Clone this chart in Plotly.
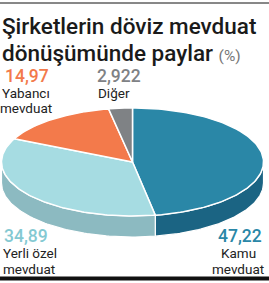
import numpy as np
import plotly.graph_objects as go

# Data
categories = ["Kamu mevduat", "Yerli özel mevduat", "Yabancı mevduat", "Diğer"]
values = [47.22, 34.89, 14.97, 2.922]
value_labels = ["47,22", "34,89", "14,97", "2,922"]
label_lines = [["Kamu", "mevduat"], ["Yerli özel", "mevduat"], ["Yabancı", "mevduat"], ["Diğer"]]
top_colors = ["#2a87a7", "#a6dce2", "#f37a4b", "#7f8285"]
side_colors = ["#1b6483", "#8cbac1", "#c95f37", "#5f6264"]
num_colors = ["#2a87a7", "#84c9d2", "#f37a4b", "#7f8285"]

W, H = 269, 283
cx, cy = 132.5, 162.0
rx, ry = 131.0, 54.0
depth = 21.0

fig = go.Figure()

total = sum(values)
bounds = np.cumsum([0] + values) / total * 360.0

def pt(theta_deg, dy=0.0):
    t = np.radians(theta_deg)
    return cx + rx * np.sin(t), cy - ry * np.cos(t) + dy

# sides (front half: 90..270 deg)
for i in range(len(values)):
    a0, a1 = bounds[i], bounds[i + 1]
    s0, s1 = max(a0, 90), min(a1, 270)
    if s1 <= s0:
        continue
    th = np.linspace(s0, s1, 80)
    xs_top, ys_top = pt(th)
    xs_bot, ys_bot = pt(th[::-1], depth)
    xs = np.concatenate([xs_top, xs_bot, xs_top[:1]])
    ys = np.concatenate([ys_top, ys_bot, ys_top[:1]])
    fig.add_trace(go.Scatter(x=xs, y=ys, fill="toself", fillcolor=side_colors[i],
                             mode="lines", line=dict(color="white", width=1.2),
                             hoverinfo="skip", showlegend=False))

# top faces
for i in range(len(values)):
    a0, a1 = bounds[i], bounds[i + 1]
    th = np.linspace(a0, a1, 120)
    xs_arc, ys_arc = pt(th)
    xs = np.concatenate([[cx], xs_arc, [cx]])
    ys = np.concatenate([[cy], ys_arc, [cy]])
    fig.add_trace(go.Scatter(x=xs, y=ys, fill="toself", fillcolor=top_colors[i],
                             mode="lines", line=dict(color="white", width=1.5),
                             hoverinfo="skip", showlegend=False, name=categories[i]))

FONT = "Roboto"
ann = []
# title
ann.append(dict(x=1, y=26, text="Şirketlerin döviz mevduat", xanchor="left", yanchor="middle",
                font=dict(family=FONT, size=22.5, color="#1a1a1a", weight=500), showarrow=False, borderpad=0))
ann.append(dict(x=1, y=53, text="dönüşümünde paylar <span style='font-size:15.5px;color:#777;font-weight:400'>(%)</span>",
                xanchor="left", yanchor="middle",
                font=dict(family=FONT, size=22.5, color="#1a1a1a", weight=500), showarrow=False, borderpad=0))

# number label positions and sub-label positions
num_pos = [(263, 236, "right"), (3, 236, "left"), (4, 76, "left"), (96, 76, "left")]
sub_pos = [(238, 253, 16), (2, 253, 16), (26, 93, 15), (114, 93, 15)]
sub_anchor = ["center", "left", "center", "center"]
for i in range(len(values)):
    x, y, a = num_pos[i]
    ann.append(dict(x=x, y=y, text=value_labels[i], xanchor=a, yanchor="middle", borderpad=0,
                    font=dict(family=FONT, size=17.5, color=num_colors[i], weight=500), showarrow=False))
    x, y, dy = sub_pos[i]
    for k, line in enumerate(label_lines[i]):
        ann.append(dict(x=x, y=y + k * dy, text=line, xanchor=sub_anchor[i], yanchor="middle", borderpad=0,
                        font=dict(family=FONT, size=13.5, color="#222"), showarrow=False))

fig.update_layout(
    width=W, height=H, margin=dict(l=0, r=0, t=0, b=0),
    paper_bgcolor="white", plot_bgcolor="white",
    xaxis=dict(range=[0, W], visible=False, fixedrange=True),
    yaxis=dict(range=[H, 0], visible=False, fixedrange=True),
    annotations=ann,
    shapes=[
        dict(type="line", xref="x", yref="y", x0=0, x1=W, y0=3, y1=3, line=dict(color="#111", width=1)),
        dict(type="line", xref="x", yref="y", x0=0, x1=W, y0=278.5, y1=278.5, line=dict(color="#111", width=4)),
    ],
    showlegend=False,
)

fig.write_html("out.html", config={"displayModeBar": False})
